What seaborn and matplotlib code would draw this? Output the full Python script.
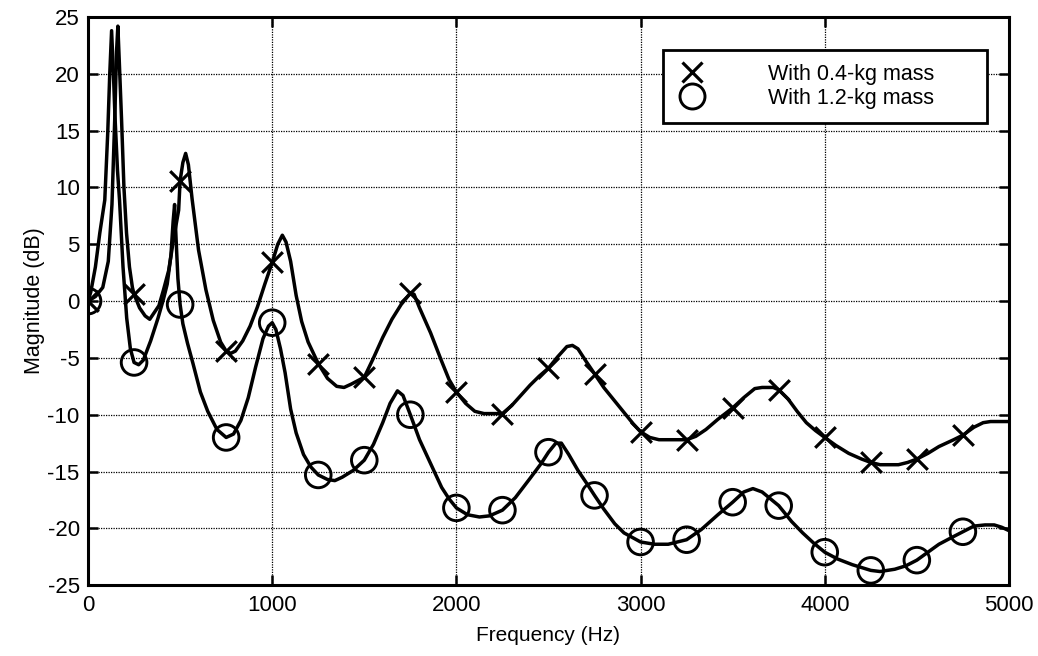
import matplotlib
matplotlib.use("Agg")
import matplotlib.pyplot as plt
import pandas as pd
import seaborn as sns
from matplotlib.lines import Line2D

# ---- data ----
series_labels = ["With 0.4-kg mass", "With 1.2-kg mass"]

freq_04 = [0, 40, 80, 110, 130, 145, 155, 162, 170, 182, 195, 209, 225, 241, 250, 280, 310, 335,
           360, 385, 410, 438, 465, 492, 500, 515, 530, 545, 565, 600, 640, 680, 720, 750, 775,
           800, 840, 880, 920, 960, 1000, 1030, 1055, 1075, 1100, 1130, 1160, 1195, 1250, 1300,
           1350, 1390, 1430, 1500, 1550, 1600, 1650, 1700, 1750, 1770, 1800, 1860, 1920, 1960,
           2000, 2050, 2100, 2150, 2200, 2250, 2300, 2350, 2400, 2450, 2500, 2550, 2600, 2630,
           2660, 2700, 2750, 2800, 2860, 2920, 2960, 3000, 3050, 3100, 3150, 3200, 3250, 3300,
           3355, 3420, 3500, 3560, 3620, 3660, 3720, 3750, 3800, 3850, 3900, 3950, 4000, 4060,
           4130, 4200, 4250, 4300, 4350, 4400, 4450, 4500, 4560, 4620, 4700, 4750, 4810, 4860,
           4900, 4950, 5000]
mag_04 = [0, 0.4, 1.2, 3.5, 8.5, 16, 22, 24.2, 21, 16, 10, 6, 3, 1.2, 0.6, -0.6, -1.3, -1.6,
          -1.0, -0.4, 1.0, 2.7, 5.5, 8.0, 10.6, 12.2, 13.0, 12.0, 9.0, 4.5, 1.0, -1.7, -3.6, -4.4, -4.6,
          -4.4, -3.5, -2.2, -0.5, 1.5, 3.4, 5.0, 5.8, 5.2, 3.5, 0.5, -1.8, -3.6, -5.5, -6.8,
          -7.5, -7.6, -7.3, -6.7, -5.0, -3.2, -1.6, -0.3, 0.7, 0.6, -0.6, -2.8, -5.3, -6.9,
          -8.0, -9.0, -9.7, -9.9, -9.9, -9.9, -9.2, -8.3, -7.4, -6.6, -5.9, -4.9, -4.0, -3.9,
          -4.2, -5.2, -6.4, -7.6, -8.8, -10.0, -10.8, -11.5, -12.0, -12.2, -12.2, -12.2, -12.2, -11.9,
          -11.3, -10.4, -9.4, -8.5, -7.7, -7.6, -7.6, -7.8, -8.6, -9.7, -10.7, -11.4, -12.0, -12.7,
          -13.4, -13.9, -14.2, -14.4, -14.4, -14.4, -14.2, -13.9, -13.4, -12.8, -12.2, -11.8, -11.1, -10.7,
          -10.6, -10.6, -10.6]

freq_12 = [0, 15, 40, 64, 91, 107, 118, 128, 138, 146, 160, 171, 190, 210, 230, 250, 275, 300,
           340, 380, 410, 430, 450, 462, 470, 478, 488, 500, 515, 540, 570, 610, 650, 700, 750,
           790, 830, 870, 910, 950, 980, 1000, 1020, 1045, 1070, 1100, 1130, 1170, 1210, 1250,
           1300, 1340, 1380, 1440, 1500, 1550, 1600, 1640, 1680, 1710, 1750, 1800, 1860, 1920,
           1960, 2000, 2060, 2125, 2180, 2250, 2320, 2400, 2460, 2500, 2540, 2570, 2610, 2660,
           2710, 2750, 2800, 2860, 2910, 3000, 3075, 3150, 3250, 3330, 3420, 3500, 3560, 3610,
           3660, 3750, 3820, 3880, 3940, 4000, 4070, 4150, 4250, 4300, 4380, 4440, 4500, 4560,
           4620, 4690, 4750, 4810, 4870, 4920, 4960, 5000]
mag_12 = [0, 0.8, 3, 6, 8.9, 14.8, 20, 23.8, 20, 16.4, 11.5, 8.9, 3, -1.5, -4.2, -5.4, -5.6, -5.2,
          -3.5, -1.5, 0.2, 1.5, 4.0, 7.0, 8.5, 5.5, 2.0, -0.3, -2.0, -3.7, -5.5, -8.0, -9.7, -11.3, -12.0,
          -11.7, -10.5, -8.5, -5.8, -3.3, -2.2, -1.9, -2.5, -4.2, -6.3, -9.5, -11.6, -13.5, -14.6, -15.3,
          -15.7, -15.8, -15.5, -14.9, -14.0, -12.6, -10.7, -9.0, -7.9, -8.3, -10.0, -12.2, -14.3, -16.4,
          -17.4, -18.2, -18.8, -19.0, -18.9, -18.4, -17.3, -15.6, -14.3, -13.3, -12.5, -12.5, -13.5, -14.9,
          -16.1, -17.1, -18.3, -19.6, -20.4, -21.2, -21.4, -21.4, -21.0, -20.1, -18.8, -17.7, -16.8, -16.5,
          -16.8, -18.0, -19.4, -20.4, -21.3, -22.1, -22.7, -23.2, -23.7, -23.8, -23.6, -23.3, -22.8, -22.1,
          -21.4, -20.8, -20.3, -19.8, -19.7, -19.7, -19.9, -20.2]

marker_freq = [0, 250, 500, 750, 1000, 1250, 1500, 1750, 2000, 2250, 2500, 2750, 3000, 3250,
               3500, 3750, 4000, 4250, 4500, 4750]
marker_mag_04 = [0, 0.6, 10.6, -4.4, 3.4, -5.5, -6.7, 0.7, -8.0, -9.9, -5.9, -6.4, -11.5, -12.2,
                 -9.4, -7.8, -12.0, -14.2, -13.9, -11.8]
marker_mag_12 = [0, -5.4, -0.3, -12.0, -1.9, -15.3, -14.0, -10.0, -18.2, -18.4, -13.3, -17.1, -21.2,
                 -21.0, -17.7, -18.0, -22.1, -23.7, -22.8, -20.3]

x_ticks = [0, 1000, 2000, 3000, 4000, 5000]
y_ticks = [-25, -20, -15, -10, -5, 0, 5, 10, 15, 20, 25]

# ---- styling ----
sns.set_theme(style="white")
plt.rcParams["font.family"] = ["Liberation Sans", "DejaVu Sans"]
plt.rcParams["text.color"] = "black"
plt.rcParams["axes.labelcolor"] = "black"
plt.rcParams["axes.unicode_minus"] = False

fig, ax = plt.subplots(figsize=(10.38, 6.56), dpi=100)
fig.subplots_adjust(left=0.0848, right=0.972, top=0.974, bottom=0.108)

df04 = pd.DataFrame({"f": freq_04, "m": mag_04})
df12 = pd.DataFrame({"f": freq_12, "m": mag_12})
sns.lineplot(data=df04, x="f", y="m", ax=ax, color="black", lw=2.5,
             estimator=None, sort=False, zorder=2)
sns.lineplot(data=df12, x="f", y="m", ax=ax, color="black", lw=2.5,
             estimator=None, sort=False, zorder=2)

sns.scatterplot(x=marker_freq, y=marker_mag_04, ax=ax, marker="x", s=220,
                color="black", linewidth=2.3, zorder=3)
sns.scatterplot(x=marker_freq, y=marker_mag_12, ax=ax, marker="o", s=340,
                facecolors="none", edgecolor="black", linewidth=2.1, zorder=3)

ax.set_xlim(0, 5000)
ax.set_ylim(-25, 25)
ax.set_xticks(x_ticks)
ax.set_yticks(y_ticks)
ax.set_xlabel("Frequency (Hz)", fontsize=15, labelpad=7)
ax.set_ylabel("Magnitude (dB)", fontsize=15.5, labelpad=2)

ax.grid(True, color="black", linestyle=(0, (1, 1.0)), linewidth=0.9)
ax.set_axisbelow(True)
for sp in ax.spines.values():
    sp.set_visible(True)
    sp.set_color("black")
    sp.set_linewidth(2.2)
ax.tick_params(axis="both", which="both", direction="in", length=7, width=1.8,
               top=True, right=True, bottom=True, left=True,
               labelsize=16, colors="black")
ax.tick_params(axis="x", pad=7)
ax.tick_params(axis="y", pad=6)

handles = [
    Line2D([], [], ls="none", marker="x", ms=14, mew=2.3, color="black"),
    Line2D([], [], ls="none", marker="o", ms=18, mfc="none", mec="black", mew=2.1),
]
leg = ax.legend(handles, series_labels, loc="upper left",
                bbox_to_anchor=(0.624, 0.815, 0.352, 0.127), mode="expand",
                fontsize=15.5, frameon=True, fancybox=False, framealpha=1,
                edgecolor="black", borderpad=0.64, handlelength=1.4,
                handletextpad=2.85, labelspacing=0.15, borderaxespad=0)
leg.get_frame().set_linewidth(2.0)

fig.savefig("out.png", dpi=100)
